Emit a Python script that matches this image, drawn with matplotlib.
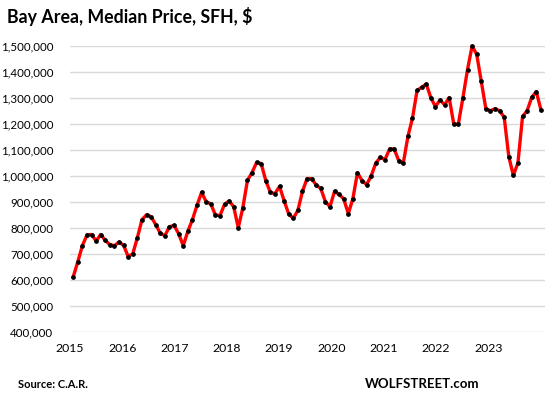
import matplotlib.pyplot as plt
import numpy as np

# Bay Area median price, single-family houses, monthly Jan 2015 - Jul 2023
months = np.arange(103)
prices = [
    612000, 670000, 732000, 773000, 775000, 750000, 775000, 752000, 736000, 732000, 746000, 733000,
    690000, 701000, 763000, 832000, 851000, 843000, 813000, 779000, 771000, 805000, 810000, 778000,
    732000, 787000, 832000, 887000, 937000, 901000, 893000, 851000, 847000, 891000, 904000, 882000,
    801000, 878000, 983000, 1013000, 1052000, 1048000, 982000, 937000, 932000, 960000, 905000, 854000,
    837000, 868000, 941000, 990000, 990000, 965000, 952000, 901000, 882000, 941000, 929000, 912000,
    855000, 913000, 1013000, 982000, 967000, 1001000, 1050000, 1072000, 1063000, 1104000, 1104000, 1059000,
    1050000, 1152000, 1223000, 1329000, 1341000, 1354000, 1301000, 1267000, 1292000, 1274000, 1301000, 1200000,
    1200000, 1301000, 1409000, 1500000, 1468000, 1364000, 1259000, 1251000, 1259000, 1251000, 1226000, 1075000,
    1002000, 1051000, 1229000, 1251000, 1302000, 1325000, 1255000,
]
year_labels = ['2015', '2016', '2017', '2018', '2019', '2020', '2021', '2022', '2023']
y_ticks = np.arange(400000, 1500001, 100000)

plt.rcParams['font.family'] = ['Lato', 'DejaVu Sans']

fig = plt.figure(figsize=(5.49, 3.99), dpi=100)
ax = fig.add_axes([70 / 549, 1 - 332 / 399, 475 / 549, 286 / 399])

ax.plot(months, prices, color='#ff0000', linewidth=2.4, marker='o',
        markersize=2.4, markerfacecolor='black', markeredgecolor='black',
        clip_on=False, zorder=3)

ax.set_xlim(-0.5, 102.9)
ax.set_ylim(400000, 1500000)
ax.set_yticks(y_ticks)
ax.set_yticklabels(['{:,}'.format(v) for v in y_ticks])
ax.set_xticks(np.linspace(-0.7, 90.5, 9))
ax.set_xticklabels(year_labels)
ax.tick_params(axis='both', length=0, colors='black')
ax.tick_params(axis='y', pad=12, labelsize=8.3)
ax.tick_params(axis='x', pad=8, labelsize=8.8)
ax.grid(axis='y', color='#d9d9d9', linewidth=1.0)
ax.set_axisbelow(True)
for s in ax.spines.values():
    s.set_visible(False)

fig.text(7 / 549, 1 - 16 / 399, 'Bay Area, Median Price, SFH, $', fontsize=12.8,
         fontweight='bold', va='center', ha='left')
fig.text(18 / 549, 1 - 384 / 399, 'Source: C.A.R.', fontsize=8,
         fontweight='bold', va='center', ha='left')
fig.text(365 / 549, 1 - 384 / 399, 'WOLFSTREET.com', fontsize=9.5,
         fontweight='bold', va='center', ha='left')

fig.savefig('out.png', dpi=100)
